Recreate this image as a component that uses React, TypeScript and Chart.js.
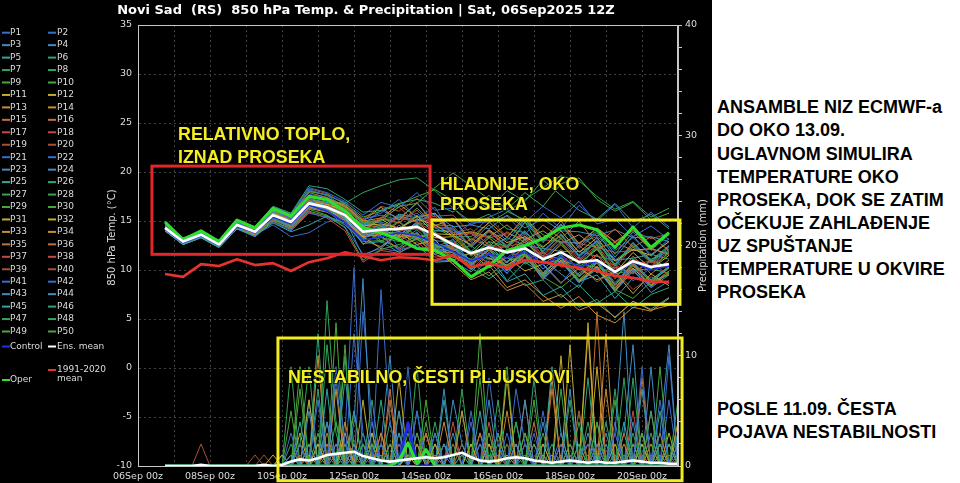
import React, { useEffect, useRef } from "react";
import { Chart, registerables } from "chart.js";

Chart.register(...registerables);

const TITLE = "Novi Sad  (RS)  850 hPa Temp. & Precipitation | Sat, 06Sep2025 12Z";
const Y_TITLE = "850 hPa Temp. (°C)";
const Y2_TITLE = "Precipitation (mm)";
const X_TICK_LABELS = ["06Sep 00z", "08Sep 00z", "10Sep 00z", "12Sep 00z", "14Sep 00z", "16Sep 00z", "18Sep 00z", "20Sep 00z"];

// hours after 06Sep 00z
const TEMP_HOURS = [18, 30, 42, 54, 66, 78, 90, 102, 114, 126, 138, 150, 162, 174, 186, 198, 210, 222, 234, 246, 258, 270, 282, 294, 306, 318, 330, 342, 354];
const PRECIP_HOURS = [18, 24, 30, 36, 42, 48, 54, 60, 66, 72, 78, 84, 90, 96, 102, 108, 114, 120, 126, 132, 138, 144, 150, 156, 162, 168, 174, 180, 186, 192, 198, 204, 210, 216, 222, 228, 234, 240, 246, 252, 258, 264, 270, 276, 282, 288, 294, 300, 306, 312, 318, 324, 330, 336, 342, 348, 354, 360];

// 850 hPa temperature (°C)
const TEMP_MEAN = [14.3, 12.9, 13.6, 12.6, 14.6, 13.9, 15.6, 14.9, 16.8, 16.4, 15.6, 13.9, 14.1, 14.2, 14.4, 13.6, 12.6, 11.7, 12.3, 11.8, 12.2, 11.1, 11.8, 10.8, 11.0, 9.8, 10.9, 10.3, 10.6];
const TEMP_OPER = [14.9, 13.1, 14.0, 12.9, 15.1, 14.3, 16.3, 15.5, 17.5, 17.2, 16.0, 14.3, 13.8, 13.1, 12.2, 12.0, 11.0, 9.3, 10.4, 12.0, 12.5, 13.2, 14.3, 14.6, 14.1, 12.3, 14.4, 12.3, 13.8];
const TEMP_CONTROL = [14.2, 12.8, 13.5, 12.5, 14.4, 13.8, 15.4, 14.7, 16.6, 16.0, 14.9, 13.0, 13.4, 13.8, 13.5, 12.8, 11.9, 10.9, 11.6, 11.2, 11.8, 10.6, 11.4, 10.3, 10.9, 9.7, 10.8, 10.0, 10.4];
const TEMP_CLIM = [9.6, 9.3, 10.6, 10.4, 11.1, 10.5, 10.7, 9.9, 10.8, 11.2, 11.8, 11.4, 11.0, 11.3, 11.2, 11.0, 11.5, 10.3, 10.7, 10.2, 11.0, 10.8, 10.5, 10.2, 9.9, 9.4, 9.2, 8.8, 8.8];

const T01 = [14.1, 12.7, 13.4, 12.9, 14.3, 14.1, 15.2, 15.1, 17.3, 16.0, 14.6, 13.1, 14.8, 12.2, 13.9, 11.5, 13.2, 10.4, 11.8, 9.6, 12.4, 10.5, 8.6, 10.9, 13.1, 11.1, 8.9, 10.2, 12.4];
const T02 = [14.6, 13.1, 13.9, 12.4, 15.0, 13.7, 16.3, 15.2, 18.2, 17.6, 16.9, 15.1, 15.8, 17.2, 15.3, 16.4, 13.4, 14.8, 14.9, 15.5, 13.6, 15.8, 14.2, 16.6, 15.0, 16.7, 14.3, 15.9, 14.4];
const T03 = [14.2, 12.8, 13.5, 12.5, 14.5, 13.8, 15.4, 14.2, 16.1, 16.9, 15.2, 11.4, 12.4, 13.6, 14.8, 12.1, 11.9, 10.6, 12.2, 10.7, 13.3, 11.1, 9.6, 8.2, 10.9, 8.5, 10.1, 7.7, 8.9];
const T04 = [14.4, 13.0, 13.7, 12.7, 14.8, 14.0, 15.9, 15.4, 17.0, 16.2, 15.9, 14.6, 16.1, 15.3, 16.8, 14.9, 15.2, 12.8, 14.6, 13.0, 15.1, 12.9, 14.7, 12.2, 13.8, 11.3, 13.5, 11.4, 13.2];
const T05 = [14.0, 12.6, 13.3, 12.3, 14.2, 13.5, 14.8, 13.9, 14.6, 15.5, 14.8, 12.7, 12.9, 11.8, 12.6, 10.8, 10.9, 9.8, 11.6, 8.9, 10.8, 9.6, 11.2, 8.8, 9.5, 7.1, 9.2, 8.7, 10.3];
const T06 = [14.7, 13.3, 13.9, 12.9, 15.1, 14.4, 16.5, 15.8, 18.6, 18.3, 17.2, 15.9, 16.1, 16.8, 17.2, 16.8, 15.9, 17.4, 16.2, 18.1, 17.0, 19.2, 17.6, 16.1, 15.2, 16.8, 14.9, 15.7, 14.2];
const T07 = [14.3, 12.9, 13.6, 12.6, 14.6, 13.9, 15.7, 14.8, 16.9, 16.5, 15.4, 13.8, 14.3, 13.0, 14.6, 12.3, 13.1, 11.4, 12.9, 10.2, 11.8, 9.4, 11.5, 10.1, 12.6, 9.3, 10.8, 8.9, 10.2];
const T08 = [14.2, 12.8, 13.5, 12.4, 14.4, 13.8, 15.3, 14.6, 16.6, 16.1, 15.5, 14.2, 12.8, 14.6, 13.1, 13.9, 11.8, 11.1, 12.9, 12.4, 14.9, 11.6, 13.3, 11.4, 12.9, 10.4, 12.6, 10.8, 12.1];
const T09 = [14.5, 13.1, 13.8, 12.8, 14.9, 14.2, 16.1, 15.3, 17.6, 17.1, 16.4, 14.8, 15.0, 16.5, 16.8, 18.4, 19.9, 18.6, 17.2, 16.0, 15.1, 13.6, 12.8, 10.6, 12.2, 9.6, 11.0, 10.1, 11.8];
const T10 = [14.1, 12.6, 13.4, 12.3, 14.3, 13.5, 15.2, 14.3, 16.2, 15.6, 14.3, 11.0, 12.1, 12.6, 13.1, 12.2, 11.3, 10.8, 9.4, 10.9, 11.6, 9.3, 8.2, 9.7, 10.9, 8.0, 7.1, 8.8, 9.5];
const T11 = [14.3, 12.9, 13.7, 12.7, 14.7, 14.0, 15.8, 15.0, 17.0, 16.7, 16.1, 14.5, 14.7, 14.3, 15.2, 14.6, 13.5, 12.6, 14.1, 12.8, 13.4, 12.3, 14.0, 11.8, 13.3, 10.9, 12.1, 11.5, 12.9];
const T12 = [14.0, 12.7, 13.4, 12.5, 14.4, 13.7, 15.4, 14.7, 16.5, 16.0, 15.0, 13.4, 12.2, 13.9, 12.6, 13.1, 11.0, 11.8, 10.2, 11.3, 9.9, 10.6, 8.7, 10.2, 9.0, 9.8, 7.6, 9.6, 8.4];
const T13 = [14.4, 13.0, 13.8, 12.8, 14.8, 14.1, 16.0, 15.5, 17.4, 17.3, 16.6, 15.0, 16.4, 15.1, 16.9, 14.5, 15.3, 13.0, 14.9, 13.3, 15.5, 13.1, 15.0, 12.7, 14.3, 12.9, 14.1, 12.1, 13.8];
const T14 = [14.2, 12.8, 13.5, 12.5, 14.5, 13.8, 15.5, 14.6, 16.7, 16.3, 15.3, 13.5, 13.9, 13.4, 13.7, 12.1, 10.6, 9.0, 9.8, 7.9, 8.6, 6.8, 7.5, 5.9, 6.6, 5.2, 6.8, 5.9, 6.4];
const T15 = [14.6, 13.2, 13.9, 12.9, 15.0, 14.3, 16.2, 15.6, 17.9, 17.4, 16.2, 14.4, 13.6, 14.9, 13.3, 13.7, 11.9, 13.2, 12.4, 13.9, 12.8, 14.6, 13.2, 15.0, 12.6, 14.2, 12.3, 13.4, 12.0];
const T16 = [14.1, 12.7, 13.4, 12.4, 14.3, 13.6, 15.1, 14.4, 16.3, 16.2, 15.7, 14.0, 13.5, 12.1, 13.3, 11.6, 12.2, 10.5, 12.1, 10.0, 11.4, 9.1, 10.9, 8.9, 10.4, 8.1, 10.5, 8.8, 9.6];
const T17 = [14.3, 12.9, 13.6, 12.6, 14.6, 13.9, 15.6, 14.9, 16.8, 16.6, 15.8, 14.1, 15.4, 14.8, 16.1, 14.4, 14.3, 12.4, 13.9, 12.3, 13.7, 11.4, 13.2, 11.1, 12.5, 10.2, 12.4, 10.7, 11.8];
const T18 = [14.5, 13.0, 13.7, 12.7, 14.7, 14.1, 15.9, 15.2, 17.2, 16.4, 15.1, 13.0, 12.4, 13.7, 12.2, 12.4, 10.6, 11.8, 10.7, 12.1, 10.9, 11.8, 10.6, 12.5, 11.0, 10.5, 9.6, 10.9, 9.4];
const T19 = [14.2, 12.8, 13.5, 12.6, 14.5, 13.9, 15.5, 14.8, 16.7, 16.5, 15.6, 14.3, 14.0, 15.4, 14.9, 13.8, 12.7, 13.9, 12.6, 11.9, 13.5, 11.2, 12.9, 10.9, 12.3, 9.9, 11.1, 10.4, 11.7];
const T20 = [14.4, 13.0, 13.6, 12.7, 14.6, 14.0, 15.7, 15.0, 16.9, 16.8, 16.3, 14.7, 15.2, 16.4, 14.8, 15.3, 13.8, 14.2, 12.5, 12.4, 11.0, 11.9, 10.3, 10.4, 8.8, 9.9, 8.0, 9.3, 8.6];
const T21 = [14.0, 12.6, 13.3, 12.3, 14.2, 13.4, 14.9, 14.0, 15.8, 15.4, 14.4, 11.6, 12.2, 11.9, 13.4, 11.9, 12.3, 10.8, 12.6, 11.2, 12.9, 11.0, 12.8, 12.8, 13.4, 12.0, 13.3, 11.6, 12.9];
const T22 = [14.6, 13.2, 14.0, 13.0, 15.1, 14.4, 16.4, 15.7, 18.4, 17.9, 17.0, 15.6, 16.9, 16.4, 17.9, 16.1, 16.3, 14.6, 15.4, 16.2, 14.9, 16.5, 15.3, 17.0, 14.7, 15.2, 13.4, 14.5, 13.1];
const T23 = [14.3, 12.9, 13.6, 12.6, 14.6, 13.9, 15.6, 14.9, 16.8, 16.4, 15.5, 13.7, 14.0, 13.3, 14.7, 12.5, 12.2, 11.0, 11.6, 9.9, 11.5, 9.2, 10.8, 8.7, 10.1, 7.8, 9.9, 8.2, 9.5];
const T24 = [14.1, 12.7, 13.5, 12.5, 14.4, 13.7, 15.3, 14.5, 16.4, 16.0, 15.1, 13.6, 14.2, 15.5, 15.0, 15.7, 14.4, 14.6, 14.2, 15.6, 14.3, 15.2, 14.0, 13.9, 13.5, 14.1, 13.3, 13.4, 12.9];
const T25 = [14.4, 13.0, 13.7, 12.8, 14.7, 14.0, 15.8, 15.1, 17.1, 16.9, 16.2, 14.8, 14.5, 13.9, 13.5, 12.6, 11.7, 10.1, 10.9, 8.8, 9.6, 7.4, 8.3, 6.2, 7.0, 5.1, 6.8, 6.0, 7.2];
const T26 = [14.2, 12.8, 13.5, 12.5, 14.5, 13.8, 15.4, 14.7, 16.6, 16.2, 15.3, 13.9, 14.6, 14.1, 15.6, 14.0, 13.9, 11.9, 13.5, 12.2, 14.9, 12.8, 14.6, 12.4, 14.0, 11.6, 13.9, 12.0, 13.6];
const T27 = [14.5, 13.1, 13.8, 12.8, 14.8, 14.1, 16.0, 15.4, 17.5, 17.0, 16.8, 17.9, 18.6, 19.2, 19.4, 18.1, 16.3, 14.9, 15.7, 14.2, 13.8, 12.4, 13.5, 11.9, 12.6, 11.0, 12.3, 11.1, 11.9];
const T28 = [14.3, 12.9, 13.6, 12.7, 14.6, 14.0, 15.6, 14.9, 16.9, 16.6, 15.9, 14.5, 13.8, 15.0, 13.4, 13.8, 12.0, 12.5, 11.0, 12.1, 10.6, 11.5, 10.4, 11.3, 9.7, 10.3, 9.7, 11.0, 10.3];
const T29 = [14.0, 12.6, 13.3, 12.3, 14.2, 13.5, 15.0, 14.2, 16.0, 15.5, 14.6, 12.9, 13.0, 12.3, 13.6, 12.2, 12.6, 10.7, 12.1, 10.2, 11.6, 9.5, 11.3, 9.0, 10.7, 8.2, 10.4, 8.5, 9.9];
const T30 = [14.6, 13.2, 13.9, 12.9, 15.0, 14.3, 16.3, 15.6, 18.0, 17.7, 16.8, 15.4, 16.0, 16.7, 17.5, 18.2, 17.1, 16.4, 17.6, 16.2, 17.9, 16.5, 18.8, 19.4, 17.2, 16.0, 16.9, 15.1, 15.8];
const T31 = [14.2, 12.8, 13.5, 12.5, 14.4, 13.7, 15.4, 14.6, 16.5, 16.1, 15.2, 13.3, 14.1, 13.5, 14.9, 13.3, 13.4, 11.6, 13.3, 11.7, 13.1, 10.9, 12.6, 10.7, 12.1, 9.7, 11.8, 10.1, 11.5];
const T32 = [14.4, 13.0, 13.7, 12.7, 14.7, 14.1, 15.8, 15.2, 17.2, 16.8, 15.8, 14.0, 15.2, 14.1, 15.5, 13.7, 13.6, 11.8, 11.2, 10.5, 11.7, 9.4, 11.0, 8.8, 10.3, 7.9, 10.2, 8.4, 9.7];
const T33 = [14.1, 12.7, 13.4, 12.4, 14.3, 13.6, 15.2, 14.4, 16.3, 15.9, 15.0, 13.4, 13.6, 13.8, 13.2, 11.6, 10.9, 9.4, 10.5, 8.2, 9.0, 7.4, 6.1, 7.3, 5.4, 4.6, 6.2, 5.8, 7.1];
const T34 = [14.5, 13.1, 13.8, 12.8, 14.9, 14.2, 16.1, 15.3, 17.6, 17.2, 16.5, 15.0, 15.3, 16.7, 15.4, 15.8, 13.6, 13.9, 13.4, 14.6, 13.1, 14.0, 12.7, 13.6, 12.2, 12.8, 12.0, 12.2, 11.6];
const T35 = [14.3, 12.9, 13.6, 12.6, 14.6, 13.9, 15.6, 14.8, 16.8, 16.3, 15.4, 12.6, 13.9, 13.2, 14.6, 12.6, 12.4, 10.6, 12.0, 10.3, 11.9, 9.7, 11.4, 9.3, 10.8, 8.4, 10.6, 8.8, 10.2];
const T36 = [14.2, 12.8, 13.6, 12.6, 14.5, 13.9, 15.5, 14.9, 16.7, 16.6, 15.9, 14.3, 14.5, 13.0, 13.8, 11.8, 11.8, 10.4, 12.2, 10.8, 12.4, 10.5, 12.1, 10.0, 11.6, 9.1, 11.4, 9.6, 11.0];
const T37 = [14.4, 13.0, 13.7, 12.7, 14.7, 14.0, 15.8, 15.1, 17.0, 16.7, 15.7, 13.8, 14.1, 15.6, 15.0, 15.5, 13.6, 13.7, 13.3, 13.7, 13.2, 13.1, 12.9, 12.7, 12.3, 11.8, 12.0, 12.1, 11.7];
const T38 = [14.0, 12.6, 13.3, 12.4, 14.2, 13.4, 15.0, 14.1, 15.9, 15.3, 14.0, 10.8, 12.0, 11.7, 12.9, 11.3, 11.6, 10.0, 11.8, 10.0, 11.5, 9.3, 11.0, 8.9, 10.4, 8.1, 10.2, 8.5, 9.9];
const T39 = [14.6, 13.2, 13.9, 12.9, 15.1, 14.4, 16.4, 15.7, 18.3, 17.8, 16.7, 15.2, 16.5, 16.0, 17.3, 15.5, 15.6, 13.7, 15.3, 13.4, 15.2, 13.0, 14.7, 12.6, 14.2, 12.8, 14.0, 13.2, 13.7];
const T40 = [14.3, 12.9, 13.6, 12.6, 14.6, 13.9, 15.7, 15.0, 16.9, 16.3, 15.5, 13.8, 14.3, 14.0, 14.2, 13.3, 12.9, 11.5, 12.0, 12.4, 12.8, 11.4, 11.2, 10.3, 11.5, 10.1, 10.6, 10.9, 10.2];
const T41 = [14.1, 12.7, 13.4, 12.4, 14.3, 13.6, 14.6, 13.4, 13.8, 14.9, 15.2, 13.7, 13.4, 12.0, 12.6, 10.9, 11.0, 9.2, 11.3, 9.7, 11.5, 9.0, 10.9, 8.7, 10.2, 7.8, 10.0, 8.3, 9.7];
const T42 = [14.5, 13.1, 13.8, 12.8, 14.9, 14.2, 16.1, 15.4, 17.7, 17.4, 16.6, 15.2, 15.6, 15.1, 15.8, 14.3, 14.2, 12.3, 14.0, 12.5, 14.0, 11.8, 13.6, 11.3, 12.9, 10.5, 12.6, 10.8, 12.3];
const T43 = [14.2, 12.8, 13.5, 12.5, 14.4, 13.7, 15.4, 14.6, 16.5, 16.1, 15.1, 13.2, 14.0, 13.3, 14.7, 13.0, 12.8, 10.9, 12.5, 10.8, 12.3, 10.1, 11.6, 9.5, 11.0, 8.7, 10.7, 9.0, 10.4];
const T44 = [14.4, 13.0, 13.7, 12.7, 14.7, 14.1, 15.9, 15.3, 17.3, 16.9, 16.0, 14.6, 14.9, 14.2, 15.6, 14.0, 14.1, 12.4, 14.1, 12.3, 13.9, 11.9, 13.6, 11.5, 13.0, 10.6, 12.8, 10.9, 12.4];
const T45 = [14.3, 12.9, 13.6, 12.6, 14.6, 13.9, 15.6, 14.9, 16.8, 16.4, 15.5, 13.9, 14.4, 15.7, 15.3, 15.8, 13.8, 13.8, 12.2, 13.3, 12.5, 12.2, 11.9, 11.9, 11.4, 11.0, 11.2, 11.6, 11.1];
const T46 = [14.1, 12.7, 13.4, 12.4, 14.3, 13.6, 15.3, 14.5, 16.4, 16.1, 15.4, 13.9, 13.7, 13.9, 13.3, 12.4, 11.5, 10.2, 9.1, 10.3, 8.4, 9.0, 7.2, 8.5, 6.6, 7.8, 6.1, 7.5, 8.2];
const T47 = [14.6, 13.2, 14.0, 13.0, 15.1, 14.4, 16.3, 15.6, 18.1, 17.6, 16.4, 14.9, 15.1, 15.3, 14.9, 14.3, 13.4, 13.4, 14.8, 15.9, 17.2, 18.4, 19.6, 19.1, 17.5, 16.2, 17.0, 15.4, 16.3];
const T48 = [14.2, 12.8, 13.5, 12.5, 14.5, 13.8, 15.5, 14.7, 16.6, 16.2, 15.0, 13.1, 13.3, 12.9, 14.1, 12.4, 12.3, 10.5, 12.1, 10.4, 12.0, 9.7, 11.3, 9.4, 10.8, 8.5, 10.7, 9.0, 10.3];
const T49 = [14.4, 13.0, 13.7, 12.7, 14.7, 14.0, 15.8, 15.1, 17.1, 16.8, 16.1, 14.4, 15.2, 14.8, 16.3, 14.6, 14.5, 12.4, 14.0, 12.4, 14.0, 11.9, 13.7, 11.5, 13.0, 10.5, 12.8, 11.0, 12.5];
const T50 = [14.2, 12.9, 13.7, 12.6, 14.7, 13.8, 15.5, 14.7, 16.6, 16.6, 16.0, 14.4, 13.0, 13.5, 13.1, 13.9, 12.0, 11.9, 11.6, 11.2, 10.8, 10.8, 10.9, 10.5, 10.3, 9.6, 10.0, 10.1, 9.7];

// 6-hourly precipitation (mm)
const PRECIP_MEAN = [0, 0, 0, 0, 0.1, 0, 0, 0, 0, 0, 0, 0.1, 0, 0.1, 0.4, 0.6, 0.5, 0.7, 1.0, 1.1, 1.2, 1.3, 0.9, 0.7, 0.5, 0.4, 0.5, 0.6, 0.7, 0.8, 0.7, 0.8, 1.0, 1.2, 0.8, 0.5, 0.4, 0.5, 0.7, 0.8, 0.7, 0.5, 0.4, 0.3, 0.4, 0.5, 0.4, 0.3, 0.4, 0.3, 0.3, 0.4, 0.5, 0.4, 0.3, 0.3, 0.2, 0.2];
const PRECIP_CONTROL = [0, 0, 0, 0, 0, 0, 0, 0, 0, 0, 0, 0, 0, 0, 0, 0, 0, 0, 0, 0, 0, 0, 0, 0, 0, 0, 0.4, 3.9, 0, 0, 0, 0, 0, 0, 0, 0, 0, 0, 0, 0, 0, 0, 0, 0, 0, 0, 0, 0, 0, 0, 0, 0, 0, 0, 0, 0, 0, 0];
const PRECIP_OPER = [0, 0, 0, 0, 0, 0, 0, 0, 0, 0, 0, 0, 0, 0, 0, 0, 0, 0, 0, 0, 0, 0, 0, 0, 0, 0, 0.5, 2.1, 0.2, 1.5, 0, 0, 0, 0, 0, 0, 0, 0, 0, 0, 0, 0, 0, 0, 0, 0, 0, 0, 0, 0, 0, 0, 0, 0, 0, 0, 0, 0];

const R01 = [0,0,0,0,0,0,0,0,0,0, 0,0,0,0,3,0,0,6,0,0, 0,12,3,0,2,0,0,0,5,0, 0,1,0,0,4,0,0,0,0,7, 2,0,0,0,2,0,1,2,0,0, 3,0,1,0,0,6,0,0];
const R02 = [0,0,0,0,0,0,0,0,0,0, 0,0,0,0,0,2,0,0,0,9, 2,0,0,4,0,0,1,0,0,0, 3,0,0,0,0,0,8,2,0,0, 2,0,5,0,0,1,0,0,2,0, 0,0,0,9,0,0,0,1];
const R03 = [0,0,0,0,0,0,0,0,0,0, 0,0,0,0,0,0,5,0,0,2, 0,4,17,0,0,0,3,0,0,0, 0,0,6,2,0,0,1,0,0,2, 0,0,0,0,0,7,0,0,0,2, 0,0,4,0,0,0,0,2];
const R04 = [0,0,0,0,0,0,0,0,0,0, 0,0,0,0,1,0,0,0,4,0, 0,2,0,0,2,10,0,0,0,0, 0,2,0,0,0,2,0,0,0,0, 6,0,0,0,0,0,0,3,0,0, 0,1,0,0,0,3,11,0];
const R05 = [0,0,0,0,0,0,0,0,0,0, 0,0,0,0,0,4,0,0,0,0, 8,2,0,0,1,0,0,2,0,0, 0,2,0,0,0,5,0,0,0,0, 0,0,0,9,3,0,0,0,1,0, 0,4,0,0,0,0,2,0];
const R06 = [0,0,0,0,0,0,0,0,0,0, 0,0,0,0,0,0,2,0,0,1, 0,0,0,0,6,0,0,2,0,0, 3,0,0,0,0,0,0,3,0,0, 0,2,0,0,0,0,0,8,0,0, 1,0,0,0,5,0,0,0];
const R07 = [0,0,0,0,0,0,0,0,0,0, 0,0,0,0,2,0,0,0,11,3, 0,0,2,0,0,0,3,0,0,1, 0,0,0,7,0,0,0,2,0,0, 2,0,0,0,0,0,4,0,0,0, 0,0,1,0,0,0,0,6];
const R08 = [0,0,0,0,0,0,0,0,0,0, 0,0,0,0,1,0,0,3,0,0, 0,0,2,0,0,2,0,0,9,0, 0,0,0,1,0,0,0,0,0,4, 0,0,0,0,0,2,0,0,0,0, 7,0,0,0,0,2,0,0];
const R09 = [0,0,0,0,0,0,0,0,0,0, 0,0,0,0,0,2,0,0,1,0, 0,5,0,0,2,0,0,0,3,0, 0,0,0,0,0,12,0,0,0,1, 0,0,3,0,0,0,0,0,4,0, 0,0,2,0,0,0,2,0];
const R10 = [0,0,0,0,0,0,0,0,0,0, 0,0,0,0,0,9,0,0,0,0, 2,0,0,2,0,0,0,0,0,4, 0,0,0,1,0,0,3,0,0,0, 0,6,0,0,0,0,2,0,0,0, 0,0,0,3,0,0,0,1];
const R11 = [0,0,0,0,0,0,0,0,0,0, 0,0,1,0,0,0,0,2,0,0, 0,0,0,3,0,0,0,1,0,0, 2,0,0,0,0,0,0,0,8,0, 0,0,2,0,0,0,0,13,0,0, 0,0,0,3,0,0,0,0];
const R12 = [0,0,0,0,0,0,0,0,0,0, 0,0,0,1,0,0,6,0,0,0, 3,0,0,2,0,0,0,2,0,0, 0,0,0,0,2,0,0,0,1,0, 0,0,0,0,10,0,0,0,0,0, 2,0,0,0,0,0,0,4];
const R13 = [0,0,0,0,0,0,0,0,0,0, 0,0,0,0,0,0,1,0,0,7, 0,0,0,0,3,0,0,0,2,0, 0,0,0,5,0,0,0,0,0,0, 0,2,0,0,0,1,0,0,0,12, 0,0,0,0,0,2,0,0];
const R14 = [0,0,0,0,0,0,0,0,0,0, 0,0,0,0,0,2,0,0,0,0, 4,0,0,0,0,2,0,0,0,0, 0,2,0,0,0,0,1,0,0,0, 0,0,0,8,0,0,0,0,2,0, 0,2,0,0,0,3,0,0];
const R15 = [0,0,0,0,0,0,0,0,0,0, 0,0,0,0,0,0,0,0,2,0, 0,2,0,0,0,7,0,0,0,0, 1,0,0,0,0,3,0,0,0,0, 2,0,0,0,0,0,0,0,14,0, 0,0,2,0,0,0,1,0];
const R16 = [0,0,0,0,0,0,0,0,0,0, 0,0,0,0,0,0,0,1,0,0, 0,0,2,0,0,0,0,0,0,3, 0,0,0,0,2,0,0,0,0,0, 6,0,0,0,0,0,0,1,0,0, 0,0,0,8,0,0,0,0];
const R17 = [0,0,0,0,0,0,0,0,0,0, 0,0,0,0,0,1,0,0,0,0, 0,2,0,0,0,0,0,0,3,0, 0,0,0,0,0,0,0,1,0,0, 0,0,0,0,0,2,0,0,0,0, 0,0,5,0,0,0,0,0];
const R18 = [0,0,0,0,0,0,0,0,0,0, 0,0,0,0,0,0,0,0,0,2, 0,0,0,0,2,0,0,0,0,0, 1,0,0,0,0,0,4,0,0,0, 0,0,0,0,2,0,0,0,0,0, 0,0,0,0,1,0,0,0];
const R19 = [0,0,0,0,2,0,0,0,0,0, 0,0,0,0,0,0,0,0,0,0, 0,0,1,0,0,0,0,0,0,0, 0,0,0,2,0,0,0,0,0,0, 0,0,2,0,0,0,0,0,0,0, 0,0,0,0,0,0,0,0];
const R20 = [0,0,0,0,0,0,0,0,0,0, 0,1,0,0,0,0,0,0,2,0, 0,0,0,0,0,0,0,1,0,0, 0,0,0,0,0,0,0,0,2,0, 0,0,0,0,0,0,5,0,0,0, 0,0,0,1,0,0,0,0];
const R21 = [0,0,0,0,0,0,0,0,0,0, 0,0,0,0,0,0,0,0,0,0, 3,18,0,0,0,0,2,0,0,0, 2,0,0,0,0,0,0,0,3,0, 0,0,0,0,0,1,0,0,0,0, 0,0,0,0,0,2,0,0];
const R22 = [0,0,0,0,0,0,0,0,0,0, 0,0,0,0,0,0,2,0,0,0, 0,0,0,0,16,4,0,0,0,0, 0,0,0,1,0,0,0,0,0,0, 0,3,0,0,0,0,0,0,1,0, 0,0,0,0,0,0,10,0];
const R23 = [0,0,0,0,0,0,0,0,0,0, 0,0,0,0,0,0,0,2,0,0, 0,1,0,0,0,0,5,0,0,0, 0,0,0,0,0,2,0,0,0,0, 0,0,0,0,1,0,0,0,0,0, 3,14,0,0,0,0,0,0];
const R24 = [0,0,0,0,0,0,0,0,0,0, 0,0,0,0,0,0,0,0,4,0, 0,0,0,1,0,0,0,2,0,0, 0,0,3,0,0,0,0,0,0,0, 1,0,0,0,2,0,0,0,0,0, 0,0,0,0,9,0,0,0];
const R25 = [0,0,0,0,0,0,0,0,0,0, 0,0,0,0,0,2,0,0,0,0, 0,0,3,0,0,0,0,1,0,0, 0,6,0,0,0,0,0,0,0,0, 0,0,0,0,0,0,2,0,0,0, 0,0,2,0,0,0,0,0];
const R26 = [0,0,0,0,0,0,0,0,0,0, 0,0,0,0,0,0,0,7,0,0, 0,1,0,0,0,0,0,0,2,0, 0,0,0,0,0,0,0,3,0,0, 0,0,0,2,0,0,0,0,0,4, 0,0,0,0,0,1,0,0];
const R27 = [0,0,0,0,0,0,0,0,0,0, 0,0,0,0,0,0,0,0,15,4, 0,0,0,2,0,0,0,0,0,0, 4,0,0,0,0,0,1,0,0,0, 0,0,0,0,7,0,0,0,2,0, 0,0,3,0,0,0,0,0];
const R28 = [0,0,0,0,0,0,0,0,0,0, 0,0,0,0,0,2,9,0,0,0, 1,0,0,3,0,0,0,0,0,0, 2,0,0,0,0,0,0,6,0,0, 0,0,0,0,0,1,0,0,0,0, 0,0,8,0,0,0,0,0];
const R29 = [0,0,0,0,0,0,0,0,0,0, 0,0,0,0,5,0,0,1,0,0, 11,0,0,0,0,0,0,3,0,0, 0,0,0,2,0,0,0,0,2,0, 0,0,0,0,0,0,5,0,0,0, 1,0,0,0,0,9,0,0];
const R30 = [0,0,0,0,0,0,0,0,0,0, 0,0,0,0,1,0,0,0,0,13, 0,0,0,2,0,0,0,4,0,0, 0,0,0,0,2,0,0,0,0,0, 3,0,0,0,0,2,0,0,0,0, 6,0,0,0,0,1,0,0];
const R31 = [0,0,0,0,0,0,0,0,0,0, 0,0,0,0,0,3,0,0,0,0, 1,0,0,0,0,0,8,0,0,0, 0,0,0,0,0,0,2,0,0,2, 0,0,0,0,0,11,0,0,0,0, 0,0,0,2,0,1,0,0];
const R32 = [0,0,0,0,0,0,0,0,0,0, 0,0,0,0,0,0,2,0,0,0, 0,0,6,0,0,0,0,2,0,0, 0,0,0,0,0,3,0,0,0,0, 0,0,1,0,0,0,0,0,9,0, 0,0,0,0,0,0,3,0];
const R33 = [0,0,0,0,0,0,0,0,0,0, 0,0,0,0,0,0,0,10,0,0, 1,0,0,0,2,0,0,0,0,0, 0,4,0,0,0,0,2,0,0,0, 3,0,0,0,0,0,0,0,0,7, 0,0,0,1,0,0,0,0];
const R34 = [0,0,0,0,0,0,0,0,0,0, 0,0,0,0,0,1,0,0,0,0, 2,0,0,0,2,0,0,0,0,3, 0,0,0,0,0,0,0,0,5,0, 0,0,0,1,0,0,0,12,0,0, 0,0,0,0,2,0,0,0];
const R35 = [0,0,0,0,0,0,0,0,0,0, 0,0,0,0,0,0,0,0,3,0, 0,0,0,0,0,6,0,0,0,1, 0,0,2,0,0,0,0,0,0,0, 0,4,0,0,0,0,0,2,0,0, 0,0,0,0,5,0,0,0];
const R36 = [0,0,0,0,0,0,0,0,0,0, 0,0,0,1,0,0,0,0,0,0, 0,2,0,0,0,0,0,0,0,3, 0,0,0,0,0,0,0,0,0,0, 0,0,0,7,0,0,0,0,0,0, 0,3,0,0,0,0,0,0];
const R37 = [0,0,0,0,0,0,0,0,0,0, 0,0,0,0,0,0,0,2,0,0, 0,0,0,0,3,0,0,0,0,0, 0,1,0,0,0,0,0,0,0,2, 0,0,0,0,0,0,0,0,2,0, 0,0,0,0,0,0,2,0];
const R38 = [0,0,0,0,0,0,0,0,0,0, 0,0,0,0,0,0,0,0,0,0, 2,0,0,0,0,0,2,0,0,0, 0,0,4,0,0,0,0,0,0,0, 0,0,0,0,0,0,1,0,0,0, 0,0,0,0,0,0,0,0];
const R39 = [0,0,0,0,0,0,0,0,0,0, 1,0,0,0,0,0,0,0,0,0, 0,0,0,0,0,0,0,0,2,0, 0,0,0,0,0,0,0,0,0,0, 0,0,0,0,0,0,0,0,0,0, 0,0,0,0,0,0,0,0];
const R40 = [0,0,0,0,0,0,0,0,0,0, 0,0,0,0,0,0,0,0,0,1, 0,0,0,0,0,2,0,0,0,0, 0,0,0,0,0,0,3,0,0,0, 0,0,0,0,2,0,0,0,0,0, 0,0,0,0,0,0,0,2];
const R41 = [0,0,0,0,0,0,0,0,0,0, 0,0,0,0,0,2,0,0,0,0, 0,0,14,4,0,0,0,0,0,0, 0,0,0,0,5,0,0,0,0,0, 0,0,0,0,0,0,0,0,0,0, 4,0,0,0,0,0,0,0];
const R42 = [0,0,0,0,0,0,0,0,0,0, 0,0,0,0,0,0,6,0,0,0, 0,0,0,0,0,0,0,9,0,0, 0,0,0,0,0,0,2,0,0,0, 0,0,0,0,3,0,0,0,0,0, 0,0,0,0,0,0,6,0];
const R43 = [0,0,0,0,0,0,0,0,0,0, 0,0,0,0,0,0,0,0,0,8, 0,0,0,0,0,0,0,0,0,0, 0,7,0,0,0,0,0,0,0,0, 0,0,4,0,0,0,0,0,0,0, 0,3,11,0,0,0,0,0];
const R44 = [0,0,0,0,0,0,0,0,0,0, 0,0,0,0,0,0,2,0,0,0, 0,5,0,0,0,2,0,0,0,1, 0,0,0,0,0,0,6,0,0,0, 0,0,0,0,0,0,0,0,0,3, 0,0,0,2,0,0,0,0];
const R45 = [0,0,0,0,0,0,0,0,0,0, 0,0,0,0,0,0,0,0,7,0, 0,0,0,0,0,0,0,0,5,0, 0,0,0,0,0,0,0,0,0,4, 0,0,0,0,0,0,0,0,0,0, 0,0,0,7,0,0,0,0];
const R46 = [0,0,0,0,0,0,0,0,0,0, 0,0,0,0,0,0,0,12,0,0, 0,0,0,0,0,4,0,0,0,0, 0,0,0,0,0,0,0,0,0,0, 0,8,0,0,0,0,0,0,0,0, 0,0,0,0,0,5,0,0];
const R47 = [0,0,0,0,0,0,0,0,0,0, 0,0,0,0,9,0,0,0,0,0, 0,0,0,6,0,0,0,0,0,0, 0,0,0,5,0,0,0,0,0,0, 0,0,0,0,0,0,0,4,0,0, 0,0,0,0,0,0,0,3];
const R48 = [0,0,0,0,0,0,0,0,0,0, 0,0,0,0,0,0,0,0,0,0, 10,0,0,0,2,0,0,0,0,0, 3,0,0,0,0,0,0,1,0,0, 0,0,0,0,0,6,0,0,0,0, 0,8,0,0,0,0,0,0];
const R49 = [0,0,0,0,0,0,0,0,0,0, 0,0,0,0,0,7,0,0,0,0, 0,0,0,0,0,0,5,0,0,0, 0,0,0,0,0,0,0,0,9,0, 0,0,0,0,0,0,0,0,4,0, 0,0,0,0,0,0,0,0];
const R50 = [0,0,0,0,0,0,0,0,0,0, 0,0,0,0,0,0,0,0,0,4, 0,0,0,0,0,0,0,0,0,6, 0,0,0,0,0,8,0,0,0,0, 0,0,0,0,0,0,0,0,0,0, 0,0,0,0,3,0,0,0];

const TEMP_MEMBERS = [T01, T02, T03, T04, T05, T06, T07, T08, T09, T10, T11, T12, T13, T14, T15, T16, T17, T18, T19, T20, T21, T22, T23, T24, T25, T26, T27, T28, T29, T30, T31, T32, T33, T34, T35, T36, T37, T38, T39, T40, T41, T42, T43, T44, T45, T46, T47, T48, T49, T50];
const PRECIP_MEMBERS = [R01, R02, R03, R04, R05, R06, R07, R08, R09, R10, R11, R12, R13, R14, R15, R16, R17, R18, R19, R20, R21, R22, R23, R24, R25, R26, R27, R28, R29, R30, R31, R32, R33, R34, R35, R36, R37, R38, R39, R40, R41, R42, R43, R44, R45, R46, R47, R48, R49, R50];

// styles
const MEMBER_COLORS = ["#3a6cd0", "#3a6cd0", "#3f8cc0", "#3f8cc0", "#36a3a3", "#2ea577", "#33a556", "#33a556", "#48a63a", "#48a63a", "#c4ac2c", "#c4ac2c", "#cc8c30", "#cc8c30", "#c47034", "#c47034", "#c44a46", "#c44a46", "#a6503c", "#a6503c"];
const MEAN_COLOR = "#ffffff";
const CLIM_COLOR = "#e8322c";
const OPER_COLOR = "#2ee02e";
const CONTROL_COLOR = "#1f2fe0";

const BOXES = [
  { x0: 9.3, x1: 194.7, y0: 11.6, y1: 20.6, color: "#e3262a" },
  { x0: 196, x1: 361.3, y0: 6.5, y1: 15.1, color: "#f2ec1c" },
  { x0: 93.3, x1: 362.7, y0: -11.5, y1: 3.06, color: "#f2ec1c" },
];
const NOTES = [
  { x: 26.7, y: 23.78, text: "RELATIVNO TOPLO," },
  { x: 26.7, y: 21.43, text: "IZNAD PROSEKA" },
  { x: 201.3, y: 18.67, text: "HLADNIJE, OKO" },
  { x: 201.3, y: 16.63, text: "PROSEKA" },
  { x: 100, y: -1.02, text: "NESTABILNO, ČESTI PLJUSKOVI" },
];
const RIGHT_NOTE_A = ["ANSAMBLE NIZ ECMWF-a", "DO OKO 13.09.", "UGLAVNOM SIMULIRA", "TEMPERATURE OKO", "PROSEKA, DOK SE ZATIM", "OČEKUJE ZAHLAĐENJE", "UZ SPUŠTANJE", "TEMPERATURE U OKVIRE", "PROSEKA"];
const RIGHT_NOTE_B = ["POSLE 11.09. ČESTA", "POJAVA NESTABILNOSTI"];

const pts = (hours: number[], vals: number[]) => vals.map((v, i) => ({ x: hours[i], y: v }));

const legendItems = () => {
  const items: any[] = [];
  const rowY = (r: number) => 32.7 + r * 12.45;
  TEMP_MEMBERS.forEach((_, i) => {
    items.push({ text: `P${i + 1}`, color: MEMBER_COLORS[i % 20], col: i % 2, y: rowY(Math.floor(i / 2)) });
  });
  items.push({ text: "Control", color: CONTROL_COLOR, col: 0, y: 346.5 });
  items.push({ text: "Ens. mean", color: MEAN_COLOR, col: 1, y: 346.5 });
  items.push({ text: "1991-2020", text2: "mean", color: CLIM_COLOR, col: 1, y: 370 });
  items.push({ text: "Oper", color: OPER_COLOR, col: 0, y: 380 });
  return items;
};

const decorPlugin = {
  id: "decor",
  beforeDraw(chart: any) {
    const { ctx, width, height } = chart;
    ctx.save();
    ctx.fillStyle = "#000";
    ctx.fillRect(0, 0, width, height);
    ctx.restore();
  },
  afterDraw(chart: any) {
    const { ctx, chartArea: a, scales } = chart;
    const xs = scales.x;
    const ys = scales.y;
    ctx.save();
    ctx.strokeStyle = "#c8c8c8";
    ctx.lineWidth = 1;
    ctx.strokeRect(Math.round(a.left) + 0.5, Math.round(a.top) + 0.5, Math.round(a.right - a.left) - 1, Math.round(a.bottom - a.top));
    ctx.fillStyle = "#ffffff";
    ctx.font = 'bold 13px "DejaVu Sans"';
    ctx.textAlign = "center";
    ctx.textBaseline = "middle";
    ctx.fillText(TITLE, 366, 11);
    ctx.font = '10px "DejaVu Sans"';
    ctx.fillStyle = "#dddddd";
    ctx.save();
    ctx.translate(112, (a.top + a.bottom) / 2 - 8);
    ctx.rotate(-Math.PI / 2);
    ctx.fillText(Y_TITLE, 0, 0);
    ctx.restore();
    ctx.save();
    ctx.translate(703, (a.top + a.bottom) / 2);
    ctx.rotate(-Math.PI / 2);
    ctx.fillText(Y2_TITLE, 0, 0);
    ctx.restore();
    ctx.font = '9px "DejaVu Sans"';
    ctx.textAlign = "left";
    for (const it of legendItems()) {
      const lx = it.col === 0 ? 2 : 48;
      const tx = it.col === 0 ? 10 : 57;
      ctx.strokeStyle = it.color;
      ctx.lineWidth = 2;
      ctx.beginPath();
      ctx.moveTo(lx, it.y);
      ctx.lineTo(lx + 8, it.y);
      ctx.stroke();
      ctx.fillStyle = "#dcdcdc";
      ctx.fillText(it.text, tx, it.y);
      if (it.text2) ctx.fillText(it.text2, tx, it.y + 9);
    }
    for (const b of BOXES) {
      const x0 = xs.getPixelForValue(b.x0);
      const x1 = xs.getPixelForValue(b.x1);
      const y0 = ys.getPixelForValue(b.y1);
      const y1 = ys.getPixelForValue(b.y0);
      ctx.strokeStyle = b.color;
      ctx.lineWidth = 3;
      ctx.strokeRect(x0, y0, x1 - x0, y1 - y0);
    }
    ctx.font = 'bold 17.8px "Liberation Sans", Arial, sans-serif';
    ctx.textAlign = "left";
    ctx.textBaseline = "middle";
    for (const n of NOTES) {
      const x = xs.getPixelForValue(n.x);
      const y = ys.getPixelForValue(n.y);
      ctx.lineWidth = 2;
      ctx.strokeStyle = "rgba(0,0,0,0.6)";
      ctx.strokeText(n.text, x, y);
      ctx.fillStyle = "#f4ee22";
      ctx.fillText(n.text, x, y);
    }
    ctx.restore();
  },
};

export default function App() {
  const ref = useRef<HTMLCanvasElement | null>(null);
  useEffect(() => {
    if (!ref.current) return;
    const line = (label: string, hours: number[], vals: number[], color: string, width: number, axis: string) => ({
      label,
      data: pts(hours, vals),
      borderColor: color,
      backgroundColor: color,
      borderWidth: width,
      pointRadius: 0,
      fill: false,
      tension: 0,
      borderJoinStyle: "round",
      yAxisID: axis,
    });
    const datasets: any[] = [
      line("Ens. mean", TEMP_HOURS, TEMP_MEAN, MEAN_COLOR, 2.6, "y"),
      line("Ens. mean precip", PRECIP_HOURS, PRECIP_MEAN, MEAN_COLOR, 2.6, "y2"),
      line("1991-2020 mean", TEMP_HOURS, TEMP_CLIM, CLIM_COLOR, 2.6, "y"),
      line("Oper", TEMP_HOURS, TEMP_OPER, OPER_COLOR, 3, "y"),
      line("Oper precip", PRECIP_HOURS, PRECIP_OPER, OPER_COLOR, 3, "y2"),
      line("Control precip", PRECIP_HOURS, PRECIP_CONTROL, CONTROL_COLOR, 3, "y2"),
      line("Control", TEMP_HOURS, TEMP_CONTROL, CONTROL_COLOR, 1.5, "y"),
      ...TEMP_MEMBERS.map((m, i) => line(`P${i + 1}`, TEMP_HOURS, m, MEMBER_COLORS[i % 20], 1, "y")),
      ...PRECIP_MEMBERS.map((m, i) => line(`P${i + 1} precip`, PRECIP_HOURS, m, MEMBER_COLORS[i % 20], 1, "y2")),
    ];
    const tickFont = { family: "DejaVu Sans", size: 9.5 };
    const chart = new Chart(ref.current, {
      type: "line",
      data: { datasets },
      plugins: [decorPlugin],
      options: {
        animation: false,
        responsive: false,
        maintainAspectRatio: false,
        devicePixelRatio: 1,
        layout: { padding: { top: 25, left: 0, right: 0, bottom: 0 } },
        plugins: { legend: { display: false }, tooltip: { enabled: false }, title: { display: false } },
        scales: {
          x: {
            type: "linear",
            min: 0,
            max: 360,
            afterFit: (s: any) => { s.height = 17; },
            ticks: {
              stepSize: 24,
              autoSkip: false,
              maxRotation: 0,
              color: "#dddddd",
              font: tickFont,
              padding: 5,
              callback: (v: any) => (Number(v) % 48 === 0 ? X_TICK_LABELS[Number(v) / 48] : ""),
            },
            grid: { color: "#505050", lineWidth: 0.8, drawTicks: false },
            border: { display: true, color: "#c8c8c8", dash: [2, 3] },
          },
          y: {
            type: "linear",
            position: "left",
            min: -10,
            max: 35,
            afterFit: (s: any) => { s.width = 138; },
            ticks: { stepSize: 5, color: "#dddddd", font: tickFont, padding: 6 },
            grid: { color: "#505050", lineWidth: 0.8, drawTicks: false },
            border: { display: true, color: "#c8c8c8", dash: [2, 3] },
          },
          y2: {
            type: "linear",
            position: "right",
            min: 0,
            max: 40,
            afterFit: (s: any) => { s.width = 34; },
            ticks: {
              stepSize: 2,
              autoSkip: false,
              color: "#dddddd",
              font: tickFont,
              padding: 3,
              callback: (v: any) => (Number(v) % 10 === 0 ? String(v) : ""),
            },
            grid: { drawOnChartArea: false, drawTicks: true, tickLength: 4, color: "#c8c8c8" },
            border: { display: true, color: "#c8c8c8" },
          },
        },
      },
    } as any);
    return () => chart.destroy();
  }, []);

  const noteStyle: any = {
    position: "absolute",
    left: 5,
    whiteSpace: "nowrap",
    lineHeight: "23.1px",
  };

  return (
    <div style={{ position: "fixed", left: 0, top: 0, width: 960, height: 483, background: "#ffffff", overflow: "hidden" }}>
      <canvas ref={ref} width={712} height={483} style={{ position: "absolute", left: 0, top: 0, width: 712, height: 483, display: "block" }} />
      <div
        style={{
          position: "absolute",
          left: 712,
          top: 0,
          width: 248,
          height: 483,
          background: "#ffffff",
          color: "#000000",
          fontFamily: '"Liberation Sans", Arial, sans-serif',
          fontWeight: "bold",
          fontSize: 18,
        }}
      >
        <div style={{ ...noteStyle, top: 96.4 }}>
          {RIGHT_NOTE_A.map((l, i) => (
            <div key={i}>{l}</div>
          ))}
        </div>
        <div style={{ ...noteStyle, top: 398.4 }}>
          {RIGHT_NOTE_B.map((l, i) => (
            <div key={i}>{l}</div>
          ))}
        </div>
      </div>
    </div>
  );
}
